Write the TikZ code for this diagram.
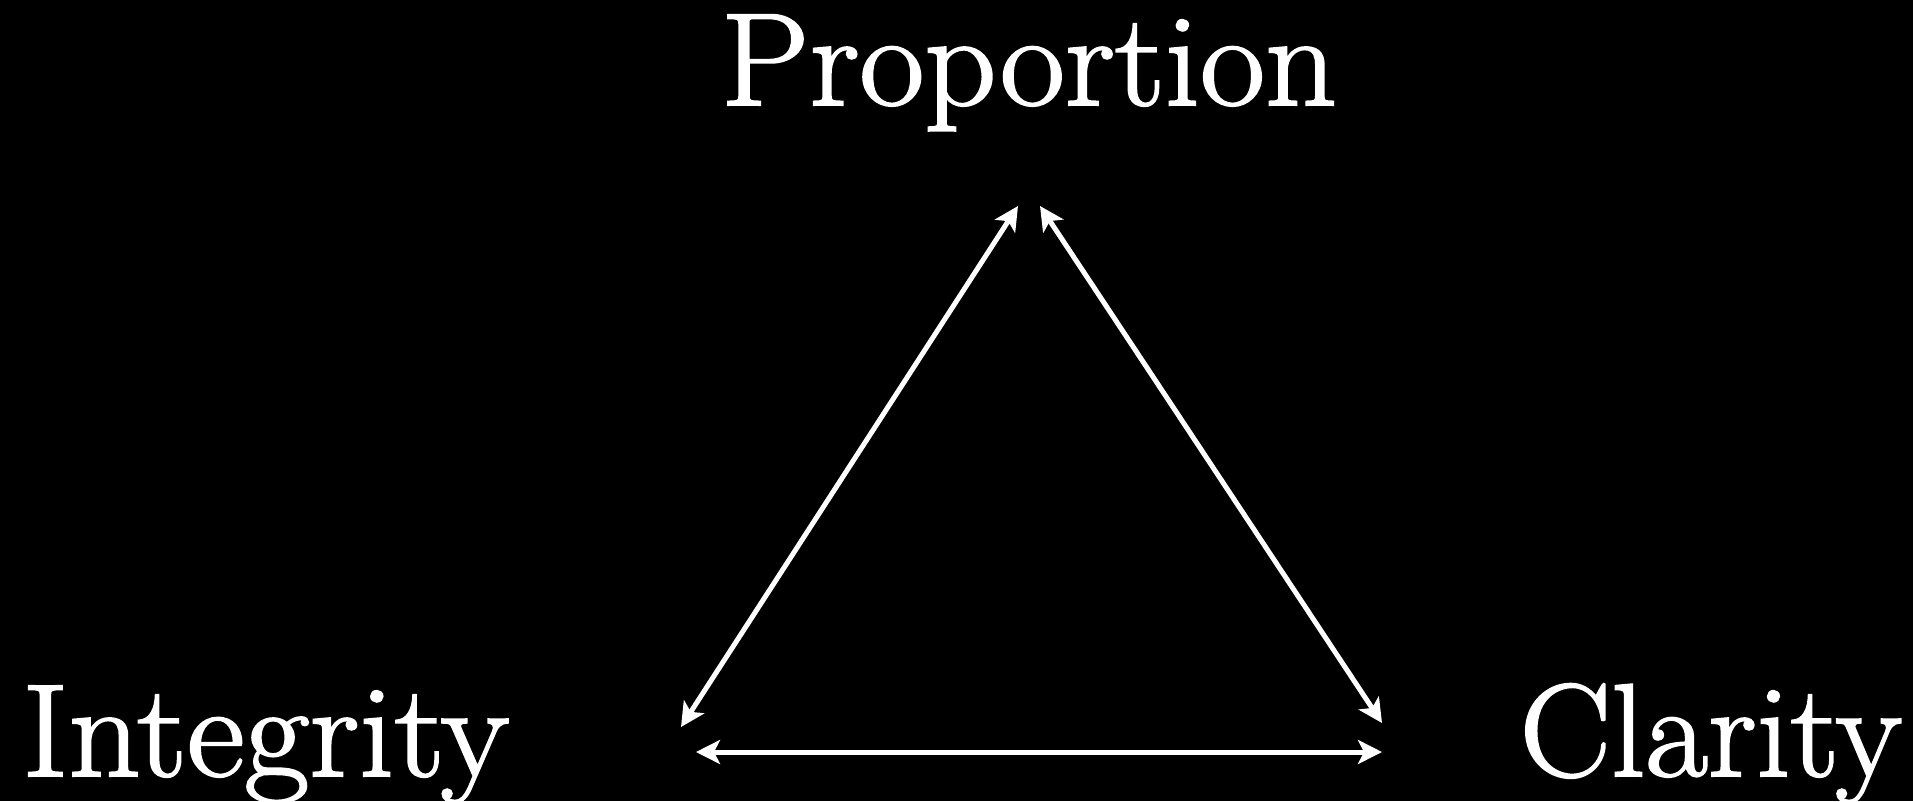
\documentclass[tikz,border=0pt]{standalone}
\usepackage{fontspec}
\newfontfamily\labelfont{Latin Modern Roman}[FakeBold=1.6,FakeStretch=1.07]
\newfontfamily\labelfontnarrow{Latin Modern Roman}[FakeBold=1.6,FakeStretch=1.036]
\usetikzlibrary{arrows.meta}
\begin{document}
\begin{tikzpicture}[x=1pt,y=-1pt,
  label/.style={text=white,inner sep=0pt,font=\labelfont\fontsize{132}{150}\selectfont},
  narrowlabel/.style={label,font=\labelfontnarrow\fontsize{132}{150}\selectfont},
  link/.style={draw=white,line width=5pt,{Stealth[length=24pt,width=24pt,inset=6pt]}-{Stealth[length=24pt,width=24pt,inset=6pt]}}]
\fill[black] (0,0) rectangle (1913,801);
\useasboundingbox (0,0) rectangle (1913,801);
\node[label,anchor=base] (prop) at (1029,105) {Proportion};
\node[label,anchor=base west] (integ) at (22,776) {Integrity};
\node[narrowlabel,anchor=base east] (clar) at (1902,776) {Clarity};
\coordinate (pL) at (1018,206);
\coordinate (pR) at (1040,206);
\coordinate (iT) at (681,727);
\coordinate (iB) at (696,752);
\coordinate (cT) at (1382,723);
\coordinate (cB) at (1382,752);
\draw[link] (iT) -- (pL);
\draw[link] (pR) -- (cT);
\draw[link] (iB) -- (cB);
\end{tikzpicture}
\end{document}
